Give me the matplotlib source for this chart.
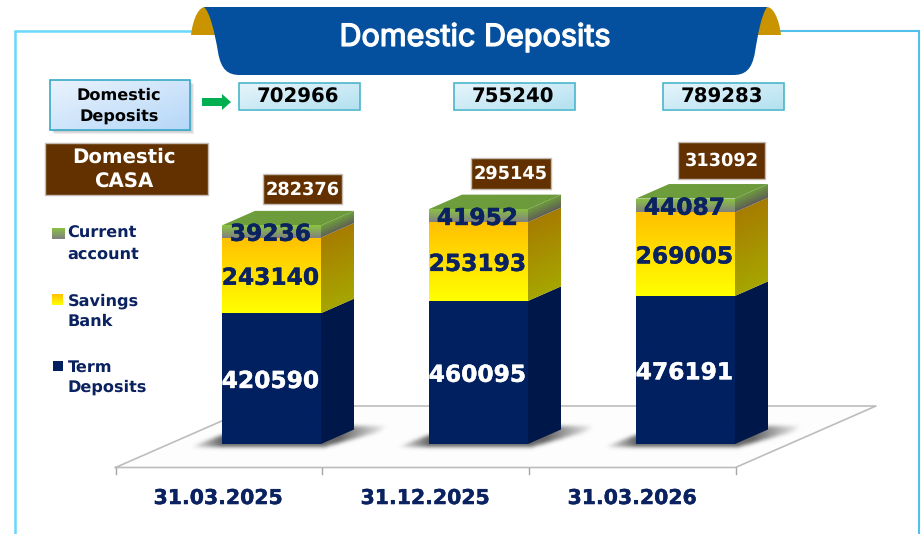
import numpy as np
import matplotlib
matplotlib.use('Agg')
import matplotlib.pyplot as plt
import matplotlib.patheffects as pe
from matplotlib.colors import to_rgb
from matplotlib.patches import Polygon, PathPatch, Rectangle
from matplotlib.path import Path

plt.rcParams['text.hinting'] = 'no_hinting'

dates = ['31.03.2025', '31.12.2025', '31.03.2026']
term_deposits = [420590, 460095, 476191]
savings_bank = [243140, 253193, 269005]
current_account = [39236, 41952, 44087]
domestic_deposits = [702966, 755240, 789283]
domestic_casa = [282376, 295145, 313092]

W, H = 922, 534
PX_PER_CAT = 207.0
PX_PER_VALUE = 0.000311
FIRST_BAR_PX = 271.5
BASE_PX = 444.0
DEPTH_X = 33 / PX_PER_CAT
DEPTH_Y = 14.5 / PX_PER_VALUE
BAR_W = 99 / PX_PER_CAT

NAVY = '#002060'
TEXT_NAVY = '#0a2260'
BROWN = '#633100'
FONT = 'DejaVu Sans'


def heavy(colour, w=0.3):
    return [pe.withStroke(linewidth=w, foreground=colour)]


fig = plt.figure(figsize=(W / 100, H / 100), dpi=100, facecolor='white')

# pixel axes for the slide decoration
deco = fig.add_axes([0, 0, 1, 1], zorder=0)
deco.set_xlim(0, W)
deco.set_ylim(H, 0)
deco.axis('off')

# data axes for the bars: x in categories, y in deposit values
ax = fig.add_axes([0, 0, 1, 1], zorder=1)
ax.set_xlim(-FIRST_BAR_PX / PX_PER_CAT, (W - FIRST_BAR_PX) / PX_PER_CAT)
ax.set_ylim(-(H - BASE_PX) / PX_PER_VALUE, BASE_PX / PX_PER_VALUE)
ax.axis('off')
ax.patch.set_alpha(0)


def gradient(a, verts, c0, c1, direction='v', zorder=2, skew=0.0):
    # c0 is the top (or left) colour, c1 the bottom (or right) colour
    # skew: share of the box height that a side face climbs from left to right
    verts = np.array(verts)
    x0, x1 = verts[:, 0].min(), verts[:, 0].max()
    y0, y1 = verts[:, 1].min(), verts[:, 1].max()
    t = np.linspace(0, 1, 64)
    if direction == 'v':
        m = np.tile(t[:, None], (1, 64))
    elif direction == 'h':
        m = np.tile(t[None, :], (64, 1))
    elif direction == 'side':
        m = np.clip((t[:, None] - (1 - t[None, :]) * skew) / (1 - skew), 0, 1)
    else:
        m = (t[:, None] + t[None, :]) / 2
    rgb0, rgb1 = np.array(to_rgb(c0)), np.array(to_rgb(c1))
    img = rgb0 + (rgb1 - rgb0) * m[..., None]
    top = y0 if a.yaxis_inverted() else y1
    bottom = y1 if a.yaxis_inverted() else y0
    im = a.imshow(img, extent=(x0, x1, bottom, top), origin='upper', aspect='auto',
                  interpolation='bilinear', zorder=zorder)
    clip = Polygon(verts, closed=True, transform=a.transData, fill=False, edgecolor='none')
    a.add_patch(clip)
    im.set_clip_path(clip)
    return im


def rect(x0, y0, x1, y1):
    return [(x0, y0), (x1, y0), (x1, y1), (x0, y1)]


def box(x0, y0, x1, y1, c0, c1, edge, lw=1.2, zorder=3):
    gradient(deco, rect(x0, y0, x1, y1), c0, c1, 'd', zorder=zorder)
    deco.add_patch(Rectangle((x0, y0), x1 - x0, y1 - y0, fill=False, edgecolor=edge,
                             linewidth=lw, zorder=zorder + 0.5))


def blur(mask, radius):
    kernel = np.exp(-0.5 * (np.arange(-3 * radius, 3 * radius + 1) / radius) ** 2)
    kernel /= kernel.sum()
    mask = np.apply_along_axis(lambda r: np.convolve(r, kernel, mode='same'), 0, mask)
    return np.apply_along_axis(lambda r: np.convolve(r, kernel, mode='same'), 1, mask)


def floor_shadow(xi):
    # blurred shadow around a bar foot, worked out on a pixel grid around the bar
    gx, gy = np.meshgrid(np.arange(-100, 130) + 0.5, np.arange(-30, 12) + 0.5)
    pts = np.column_stack([gx.ravel(), gy.ravel()])
    shape = Path([(-82, 3), (-50, -9), (80, -18), (116, -18), (106, -12), (52, 3), (-82, 3)])
    mask = shape.contains_points(pts).reshape(gx.shape).astype(float)
    mask = blur(mask, 2)
    # fades away from the bar on both sides
    fade = np.clip(np.where(gx < 0, (gx + 84) / 34, (118 - gx) / 50), 0, 1)
    img = np.zeros(mask.shape + (4,))
    img[..., :3] = to_rgb('#404040')
    img[..., 3] = mask * fade * 0.8
    ext = (xi - 100 / PX_PER_CAT, xi + 130 / PX_PER_CAT, -12 / PX_PER_VALUE, 30 / PX_PER_VALUE)
    ax.imshow(img, extent=ext, origin='upper', aspect='auto', interpolation='bilinear', zorder=2)


# outer frame
deco.plot([191, 15, 15], [31, 31, H], color='#6ad6fb', lw=1.8, zorder=1, solid_joinstyle='miter')
deco.plot([781, 919, 919], [31, 31, H], color='#52c0ea', lw=1.5, zorder=1, solid_joinstyle='miter')

# banner with folded gold ears
ear_codes = [Path.MOVETO, Path.CURVE4, Path.CURVE4, Path.CURVE4, Path.LINETO, Path.LINETO]
for pts in ([(191, 35), (193, 18), (199, 7), (205, 7), (216, 7), (216, 35)],
            [(781, 35), (779, 18), (773, 7), (767, 7), (756, 7), (756, 35)]):
    deco.add_patch(PathPatch(Path(pts, ear_codes), facecolor='#c99400', edgecolor='none', zorder=2))
banner = [(204, 7), (767, 7),
          (761, 16), (758, 34), (755, 52),
          (752, 70), (745, 75), (733, 75),
          (240, 75),
          (228, 75), (221, 70), (218, 52),
          (215, 34), (210, 12), (204, 7)]
banner_codes = [Path.MOVETO, Path.LINETO,
                Path.CURVE4, Path.CURVE4, Path.CURVE4,
                Path.CURVE4, Path.CURVE4, Path.CURVE4,
                Path.LINETO,
                Path.CURVE4, Path.CURVE4, Path.CURVE4,
                Path.CURVE4, Path.CURVE4, Path.CURVE4]
deco.add_patch(PathPatch(Path(banner, banner_codes), facecolor='#04509f', edgecolor='none', zorder=3))
deco.text(475, 37.5, 'Domestic Deposits', color='white', fontsize=22, family='Inter',
          ha='center', va='center', zorder=4, path_effects=heavy('white', 1.0))

# left hand captions
for i in range(4, 0, -1):
    deco.add_patch(Rectangle((50 + i, 80 + i), 140, 50, facecolor='#555555', alpha=0.1,
                             edgecolor='none', zorder=2))
box(50, 80, 190, 130, '#eaf3fd', '#b5d7f8', '#37a9c6')
deco.text(119, 106, 'Domestic\nDeposits', color='black', fontsize=11.6, fontweight='bold', family=FONT,
          ha='center', va='center', linespacing=1.4, zorder=4)
arrow = [(202, 98), (222, 98), (222, 94), (231, 102), (222, 110), (222, 106), (202, 106)]
deco.add_patch(Polygon(arrow, closed=True, facecolor='#00b050', edgecolor='none', zorder=3))
deco.add_patch(Rectangle((45, 143), 162.5, 52, facecolor=BROWN, edgecolor='#c4bcb4', lw=1, zorder=3))
deco.text(124, 169.5, 'Domestic\nCASA', color='white', fontsize=14.2, fontweight='bold', family=FONT,
          ha='center', va='center', linespacing=1.35, zorder=4)

# legend
legend_rows = [('Current\naccount', 228, 239.5, 51.5, 64.5, '#8cc63f', '#808080', 244),
               ('Savings\nBank', 294, 305, 52, 63, '#ffc000', '#ffff00', 311),
               ('Term\nDeposits', 361, 371, 53, 63, NAVY, NAVY, 377.5)]
for label, y0, y1, x0, x1, c0, c1, yc in legend_rows:
    gradient(deco, rect(x0, y0, x1, y1), c0, c1, 'v', zorder=3)
    deco.text(67.5, yc, label, color=TEXT_NAVY, fontsize=11.6, fontweight='bold', family=FONT,
              ha='left', va='center', linespacing=1.4, zorder=4)

# floor of the 3d chart
floor = [(115.5, 467.5), (735.5, 467.5), (876, 406), (256, 406)]
deco.add_patch(Polygon(floor, closed=True, facecolor='#fdfdfd', edgecolor='none', zorder=1))
deco.plot([115.5, 735.5, 876, 256, 115.5], [467.5, 467.5, 406, 406, 467.5], color='#bdbdbd', lw=1.2, zorder=1.5)
for tick_x in (115.5, 322, 528.7, 735.5):
    deco.plot([tick_x, tick_x], [467.5, 474], color='#a6a6a6', lw=1, zorder=1.5)

x = np.arange(len(dates), dtype=float)
term = np.array(term_deposits, dtype=float)
savings = np.array(savings_bank, dtype=float)
current = np.array(current_account, dtype=float)

segments = [
    (np.zeros(3), term, NAVY, NAVY, '#00174a', '#00174a'),
    (term, savings, '#ffc000', '#ffff00', '#a67c00', '#a6a600'),
    (term + savings, current, '#8cc63f', '#808080', '#6f9e3c', '#5f5f55'),
]

for xi in x:
    floor_shadow(xi)

for bottom, height, front0, front1, side0, side1 in segments:
    bars = ax.bar(x, height, BAR_W, bottom=bottom, color='none', edgecolor='none', zorder=3)
    for xi, b, h, bar in zip(x, bottom, height, bars):
        x0, x1 = xi - BAR_W / 2, xi + BAR_W / 2
        gradient(ax, rect(x0, b, x1, b + h), front0, front1, 'v', zorder=3)
        side = [(x1, b), (x1 + DEPTH_X, b + DEPTH_Y), (x1 + DEPTH_X, b + h + DEPTH_Y), (x1, b + h)]
        gradient(ax, side, side0, side1, 'side', zorder=3, skew=DEPTH_Y / (h + DEPTH_Y))

totals = term + savings + current
for xi, t in zip(x, totals):
    x0, x1 = xi - BAR_W / 2, xi + BAR_W / 2
    top_face = [(x0, t), (x1, t), (x1 + DEPTH_X, t + DEPTH_Y), (x0 + DEPTH_X, t + DEPTH_Y)]
    gradient(ax, top_face, '#6f9e3c', '#6c9a3c', 'h', zorder=3)

# value labels
for bottom, height, colour in ((np.zeros(3), term, 'white'), (term, savings, TEXT_NAVY), (term + savings, current, TEXT_NAVY)):
    for xi, b, h in zip(x, bottom, height):
        ax.annotate(f'{int(h)}', (xi, b + h / 2), xytext=(-1, -3),
                    textcoords='offset pixels', color=colour, fontsize=16.8, fontweight='bold',
                    family=FONT, ha='center', va='center', zorder=5, path_effects=heavy(colour))

# total boxes above the bars
total_boxes = [(238.5, 360), (453.7, 575), (662.7, 784)]
for (x0, x1), value in zip(total_boxes, domestic_deposits):
    box(x0, 83, x1, 109.5, '#e8f5fb', '#b3e1f0', '#4bb5cc')
    deco.text((x0 + x1) / 2 - 1, 97.5, str(value), color='black', fontsize=14.2, fontweight='bold', family=FONT,
              ha='center', va='center', zorder=4)

casa_boxes = [(262.5, 173.5, 342, 203.5), (471, 158, 551, 188.5), (678, 142, 765, 178.5)]
for (x0, y0, x1, y1), value in zip(casa_boxes, domestic_casa):
    deco.add_patch(Rectangle((x0, y0), x1 - x0, y1 - y0, facecolor=BROWN, edgecolor='#c4bcb4', lw=1, zorder=3))
    deco.text((x0 + x1) / 2, (y0 + y1) / 2 + 1, str(value), color='white', fontsize=12.8, fontweight='bold',
              family=FONT, ha='center', va='center', zorder=4)

# category labels
for xi, date in zip(x, dates):
    ax.annotate(date, (xi - 53.5 / PX_PER_CAT, 0), xytext=(0, -54.5), textcoords='offset pixels',
                color=TEXT_NAVY, fontsize=14.7, fontweight='bold', family=FONT,
                ha='center', va='center', zorder=5, path_effects=heavy(TEXT_NAVY))

ax.set_xlim(-FIRST_BAR_PX / PX_PER_CAT, (W - FIRST_BAR_PX) / PX_PER_CAT)
ax.set_ylim(-(H - BASE_PX) / PX_PER_VALUE, BASE_PX / PX_PER_VALUE)
deco.set_xlim(0, W)
deco.set_ylim(H, 0)

fig.savefig('out.png', dpi=100)
